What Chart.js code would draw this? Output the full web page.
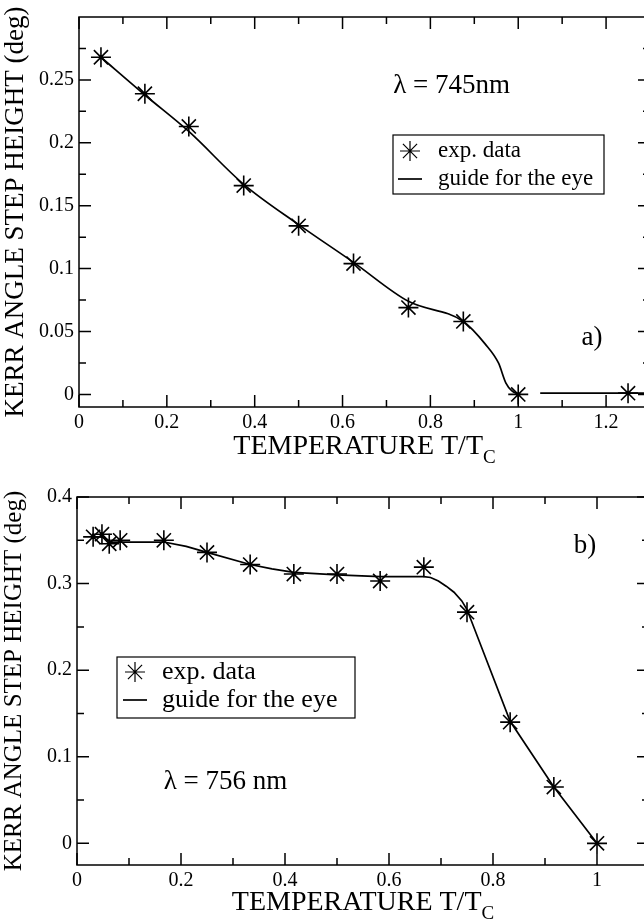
<!DOCTYPE html>
<html>
<head>
<meta charset="utf-8">
<script src="https://cdn.jsdelivr.net/npm/chart.js@4.4.1/dist/chart.umd.min.js"></script>
<style>
  html, body { margin: 0; padding: 0; background: #fff; overflow: hidden; }
  body { width: 644px; height: 922px; position: relative; }
  canvas { position: absolute; left: 0; }
  #chartA { top: 0; }
  #chartB { top: 470px; }
</style>
</head>
<body>
<canvas id="chartA" width="700" height="465"></canvas>
<canvas id="chartB" width="700" height="452"></canvas>
<script>
// panel a) lambda = 745 nm
const tempA = [0.05, 0.15, 0.25, 0.375, 0.5, 0.625, 0.75, 0.875, 1.0, 1.25];
const kerrA = [0.268, 0.239, 0.213, 0.166, 0.134, 0.104, 0.069, 0.058, 0.0, 0.001];
const guideTempA = [0.05, 0.15, 0.25, 0.375, 0.5, 0.625, 0.75, 0.875, 0.925, 0.955, 0.972, 0.985, 1.0, 1.02, 1.05, 1.3];
const guideKerrA = [0.268, 0.238, 0.209, 0.167, 0.135, 0.105, 0.074, 0.058, 0.040, 0.025, 0.009, 0.003, 0.0, null, 0.001, 0.001];
const xTicksA = [0, 0.2, 0.4, 0.6, 0.8, 1.0, 1.2];
const xMinorA = [0.1, 0.3, 0.5, 0.7, 0.9, 1.1];
const yTicksA = [0, 0.05, 0.1, 0.15, 0.2, 0.25];
const yMinorA = [0.025, 0.075, 0.125, 0.175, 0.225, 0.275];

// panel b) lambda = 756 nm
const tempB = [0.031, 0.048, 0.062, 0.083, 0.167, 0.25, 0.333, 0.417, 0.5, 0.583, 0.667, 0.75, 0.833, 0.917, 1.0];
const kerrB = [0.354, 0.357, 0.346, 0.350, 0.350, 0.336, 0.322, 0.311, 0.311, 0.303, 0.319, 0.267, 0.140, 0.065, 0.0];
const guideTempB = [0.031, 0.05, 0.065, 0.167, 0.21, 0.25, 0.333, 0.375, 0.417, 0.5, 0.583, 0.667, 0.68, 0.695, 0.71, 0.725, 0.74, 0.75, 0.833, 0.917, 1.0];
const guideKerrB = [0.354, 0.354, 0.348, 0.348, 0.343, 0.336, 0.322, 0.317, 0.313, 0.310, 0.308, 0.308, 0.307, 0.303, 0.297, 0.290, 0.280, 0.270, 0.141, 0.065, 0.0];
const xTicksB = [0, 0.2, 0.4, 0.6, 0.8, 1.0];
const xMinorB = [0.1, 0.3, 0.5, 0.7, 0.9];
const yTicksB = [0, 0.1, 0.2, 0.3, 0.4];
const yMinorB = [0.05, 0.15, 0.25, 0.35];

const SERIF = '"Liberation Serif", "Times New Roman", serif';

function toPoints(xs, ys) {
    return xs.map((x, i) => ({ x: x, y: ys[i] }));
}

function fmt(v) {
    return String(Number(Number(v).toFixed(3)));
}

// frame on all four sides with inward major/minor ticks
const frameTicks = {
    id: 'frameTicks',
    afterDraw(chart, args, opts) {
        const { ctx, chartArea: a, scales: { x, y } } = chart;
        ctx.save();
        ctx.strokeStyle = '#000';
        ctx.lineWidth = 1.5;
        ctx.strokeRect(a.left, a.top, a.right - a.left, a.bottom - a.top);
        ctx.beginPath();
        const xt = (vals, len) => vals.forEach(v => {
            const px = x.getPixelForValue(v);
            ctx.moveTo(px, a.bottom); ctx.lineTo(px, a.bottom - len);
            ctx.moveTo(px, a.top); ctx.lineTo(px, a.top + len);
        });
        const yt = (vals, len) => vals.forEach(v => {
            const py = y.getPixelForValue(v);
            ctx.moveTo(a.left, py); ctx.lineTo(a.left + len, py);
            ctx.moveTo(a.right, py); ctx.lineTo(a.right - len, py);
        });
        xt(opts.xMajor, 12); xt(opts.xMinor, 7);
        yt(opts.yMajor, 12); yt(opts.yMinor, 7);
        ctx.stroke();
        ctx.restore();
    }
};

// notes, boxed legend and the x title with its subscript
const decor = {
    id: 'decor',
    afterDraw(chart, args, opts) {
        const { ctx, chartArea: a, scales: { x, y } } = chart;
        ctx.save();
        ctx.fillStyle = '#000';
        ctx.textBaseline = 'middle';

        opts.notes.forEach(n => {
            ctx.font = n.size + 'px ' + SERIF;
            ctx.textAlign = 'center';
            ctx.fillText(n.text, x.getPixelForValue(n.x), y.getPixelForValue(n.y));
        });

        // legend box
        const L = opts.legend;
        const bx = a.left + L.left, by = a.top + L.top;
        ctx.lineWidth = 1.2;
        ctx.strokeStyle = '#000';
        ctx.strokeRect(bx, by, L.width, L.height);
        const ds = chart.data.datasets;
        Chart.helpers.drawPoint(ctx, { pointStyle: 'star', radius: 10, borderWidth: 1.6 }, bx + L.symbolX, by + L.row1);
        ctx.lineWidth = 1.7;
        ctx.beginPath();
        ctx.moveTo(bx + L.symbolX - 12, by + L.row2);
        ctx.lineTo(bx + L.symbolX + 12, by + L.row2);
        ctx.stroke();
        ctx.font = L.size + 'px ' + SERIF;
        ctx.textAlign = 'left';
        ctx.fillText(ds[1].label, bx + L.textX, by + L.row1);
        ctx.fillText(ds[0].label, bx + L.textX, by + L.row2);

        // x axis title: TEMPERATURE T/T_C
        const t = opts.xTitle;
        const subSize = Math.round(t.size * 0.68);
        ctx.font = t.size + 'px ' + SERIF;
        const w1 = ctx.measureText(t.main).width;
        ctx.font = subSize + 'px ' + SERIF;
        const w2 = ctx.measureText(t.sub).width;
        const x0 = (a.left + a.right) / 2 - (w1 + w2) / 2;
        ctx.font = t.size + 'px ' + SERIF;
        ctx.fillText(t.main, x0, t.y);
        ctx.font = subSize + 'px ' + SERIF;
        ctx.fillText(t.sub, x0 + w1, t.y + t.size * 0.38);
        ctx.restore();
    }
};

function makeChart(id, cfg) {
    return new Chart(document.getElementById(id), {
        type: 'scatter',
        data: {
            datasets: [
                {
                    label: 'guide for the eye',
                    data: toPoints(cfg.guideX, cfg.guideY),
                    showLine: true,
                    spanGaps: false,
                    borderColor: '#000',
                    borderWidth: 1.7,
                    pointRadius: 0,
                    cubicInterpolationMode: cfg.smooth ? 'monotone' : 'default',
                    tension: 0
                },
                {
                    label: 'exp. data',
                    data: toPoints(cfg.dataX, cfg.dataY),
                    showLine: false,
                    pointStyle: 'star',
                    pointRadius: 10,
                    borderColor: '#000',
                    borderWidth: 1.6,
                    backgroundColor: '#000'
                }
            ]
        },
        options: {
            responsive: false,
            animation: false,
            layout: { padding: cfg.padding },
            scales: {
                x: {
                    type: 'linear',
                    min: 0,
                    max: cfg.xMax,
                    afterBuildTicks: s => { s.ticks = cfg.xTicks.map(v => ({ value: v })); },
                    afterFit: s => { s.height = cfg.xAxisHeight; },
                    grid: { display: false, drawTicks: false },
                    border: { display: false },
                    ticks: {
                        autoSkip: false, maxRotation: 0, padding: 4, color: '#000',
                        font: { family: SERIF, size: 20 },
                        callback: fmt
                    }
                },
                y: {
                    type: 'linear',
                    min: cfg.yMin,
                    max: cfg.yMax,
                    afterBuildTicks: s => { s.ticks = cfg.yTicks.map(v => ({ value: v })); },
                    afterFit: s => { s.width = cfg.yAxisWidth; },
                    grid: { display: false, drawTicks: false },
                    border: { display: false },
                    ticks: {
                        autoSkip: false, padding: 5, color: '#000',
                        font: { family: SERIF, size: 20 },
                        callback: fmt
                    },
                    title: {
                        display: true,
                        text: 'KERR ANGLE STEP HEIGHT (deg)',
                        color: '#000',
                        font: { family: SERIF, size: cfg.yTitleSize, lineHeight: 1 },
                        padding: { top: 2, bottom: 0 }
                    }
                }
            },
            plugins: {
                legend: { display: false },
                tooltip: { enabled: false },
                frameTicks: { xMajor: cfg.xTicks, xMinor: cfg.xMinor, yMajor: cfg.yTicks, yMinor: cfg.yMinor },
                decor: { notes: cfg.notes, legend: cfg.legend, xTitle: cfg.xTitle }
            }
        },
        plugins: [frameTicks, decor]
    });
}

makeChart('chartA', {
    dataX: tempA, dataY: kerrA, guideX: guideTempA, guideY: guideKerrA, smooth: true,
    xTicks: xTicksA, xMinor: xMinorA, yTicks: yTicksA, yMinor: yMinorA,
    xMax: 1.3, yMin: -0.01, yMax: 0.3,
    padding: { top: 15, right: 50, left: 0, bottom: 0 },
    xAxisHeight: 58, yAxisWidth: 79, yTitleSize: 27,
    notes: [
        { text: 'λ = 745nm', x: 0.8485, y: 0.245, size: 27 },
        { text: 'a)', x: 1.168, y: 0.045, size: 27 }
    ],
    legend: { left: 314, top: 118, width: 211, height: 59, symbolX: 17, row1: 16, row2: 44, textX: 45, size: 23 },
    xTitle: { main: 'TEMPERATURE T/T', sub: 'C', size: 28, y: 447 }
});

makeChart('chartB', {
    dataX: tempB, dataY: kerrB, guideX: guideTempB, guideY: guideKerrB, smooth: false,
    xTicks: xTicksB, xMinor: xMinorB, yTicks: yTicksB, yMinor: yMinorB,
    xMax: 1.1, yMin: -0.025, yMax: 0.4,
    padding: { top: 27, right: 51, left: 0, bottom: 0 },
    xAxisHeight: 57, yAxisWidth: 77, yTitleSize: 25,
    notes: [
        { text: 'λ = 756 nm', x: 0.2856, y: 0.0705, size: 27 },
        { text: 'b)', x: 0.977, y: 0.343, size: 27 }
    ],
    legend: { left: 40, top: 160, width: 238, height: 61, symbolX: 18, row1: 15, row2: 43, textX: 45, size: 26 },
    xTitle: { main: 'TEMPERATURE T/T', sub: 'C', size: 28, y: 433 }
});
</script>
</body>
</html>
